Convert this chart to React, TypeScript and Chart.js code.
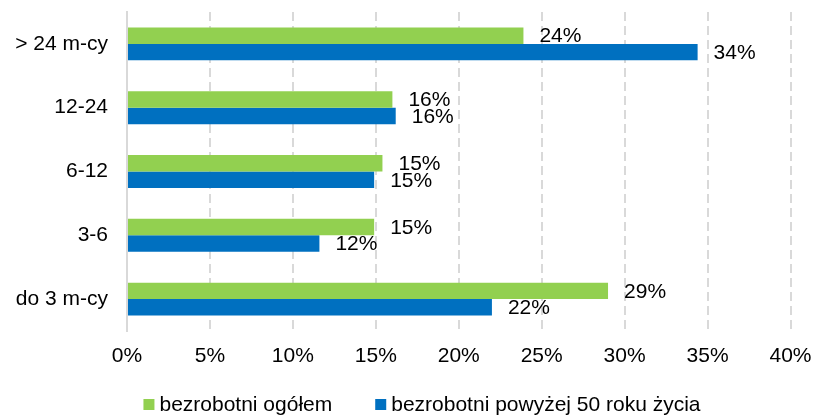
import React, { useEffect, useRef } from "react";
import { Chart, registerables } from "chart.js";

Chart.register(...registerables);

const categories = ["> 24 m-cy", "12-24", "6-12", "3-6", "do 3 m-cy"];
const seriesNames = ["bezrobotni ogółem", "bezrobotni powyżej 50 roku życia"];
const ogolem = [23.9, 16.0, 15.4, 14.9, 29.0];
const powyzej50 = [34.4, 16.2, 14.9, 11.6, 22.0];
const seriesColors = ["#92D050", "#0070C0"];
const xTicksMax = 40;
const xTickStep = 5;

const FONT = '"Liberation Sans", Arial, sans-serif';
const FS = 21;

const dataLabelPlugin = {
  id: "dataLabels",
  afterDatasetsDraw(chart: any) {
    const ctx = chart.ctx;
    ctx.save();
    ctx.font = `${FS}px ${FONT}`;
    ctx.fillStyle = "#000";
    ctx.textAlign = "left";
    ctx.textBaseline = "middle";
    chart.data.datasets.forEach((ds: any, di: number) => {
      const meta = chart.getDatasetMeta(di);
      meta.data.forEach((el: any, i: number) => {
        const v = ds.data[i];
        ctx.fillText(Math.round(v) + "%", el.x + 16, el.y + 1);
      });
    });
    ctx.restore();
  },
};

const legendPlugin = {
  id: "customLegend",
  afterDraw(chart: any) {
    const ctx = chart.ctx;
    ctx.save();
    ctx.font = `${FS}px ${FONT}`;
    ctx.textBaseline = "middle";
    ctx.textAlign = "left";
    const box = 11;
    const gapText = 5;
    const gapItems = 43;
    const items = chart.data.datasets.map((ds: any) => ({
      text: ds.label,
      color: ds.backgroundColor,
      w: ctx.measureText(ds.label).width,
    }));
    const total =
      items.reduce((s: number, it: any) => s + box + gapText + it.w, 0) +
      gapItems * (items.length - 1);
    const cx = chart.width / 2 + 15;
    let x = cx - total / 2;
    const y = chart.height - 11.5;
    items.forEach((it: any) => {
      ctx.fillStyle = it.color;
      ctx.fillRect(x, y - box / 2, box, box);
      x += box + gapText;
      ctx.fillStyle = "#000";
      ctx.fillText(it.text, x, y + 1);
      x += it.w + gapItems;
    });
    ctx.restore();
  },
};

export default function App() {
  const ref = useRef<HTMLCanvasElement | null>(null);
  useEffect(() => {
    if (!ref.current) return;
    Chart.defaults.font.family = FONT;
    Chart.defaults.font.size = FS;
    Chart.defaults.color = "#000";
    const chart = new Chart(ref.current, {
      type: "bar",
      data: {
        labels: categories,
        datasets: [
          {
            label: seriesNames[0],
            data: ogolem,
            backgroundColor: seriesColors[0],
            categoryPercentage: 0.516,
            barPercentage: 1,
          },
          {
            label: seriesNames[1],
            data: powyzej50,
            backgroundColor: seriesColors[1],
            categoryPercentage: 0.516,
            barPercentage: 1,
          },
        ],
      },
      options: {
        indexAxis: "y",
        animation: false,
        responsive: false,
        maintainAspectRatio: false,
        layout: { padding: { top: 12, right: 23.5, left: 0, bottom: 0 } },
        plugins: {
          legend: { display: false },
          tooltip: { enabled: false },
        },
        scales: {
          x: {
            min: 0,
            max: xTicksMax,
            ticks: {
              stepSize: xTickStep,
              padding: 13,
              callback: (v: any) => v + "%",
              color: "#000",
              font: { size: FS, family: FONT },
            },
            grid: {
              color: "#d9d9d9",
              lineWidth: 2,
              drawTicks: false,
            },
            border: { display: false, dash: [9, 5] },
            afterFit: (s: any) => {
              s.height = 85;
              s.paddingLeft = 0;
              s.paddingRight = 0;
              s.paddingTop = 0;
              s.paddingBottom = 0;
            },
          },
          y: {
            ticks: {
              padding: 19,
              color: "#000",
              font: { size: FS, family: FONT },
            },
            grid: { display: false, drawTicks: false },
            border: { display: true, color: "#d9d9d9", width: 2 },
            afterFit: (s: any) => {
              s.width = 127;
              s.paddingLeft = 0;
              s.paddingRight = 0;
              s.paddingTop = 0;
              s.paddingBottom = 0;
            },
          },
        },
      } as any,
      plugins: [dataLabelPlugin, legendPlugin],
    });
    return () => chart.destroy();
  }, []);
  return (
    <div style={{ position: "fixed", left: 0, top: 0, width: 814, height: 416, background: "#fff" }}>
      <canvas ref={ref} width={814} height={416} style={{ width: 814, height: 416, display: "block" }} />
    </div>
  );
}
